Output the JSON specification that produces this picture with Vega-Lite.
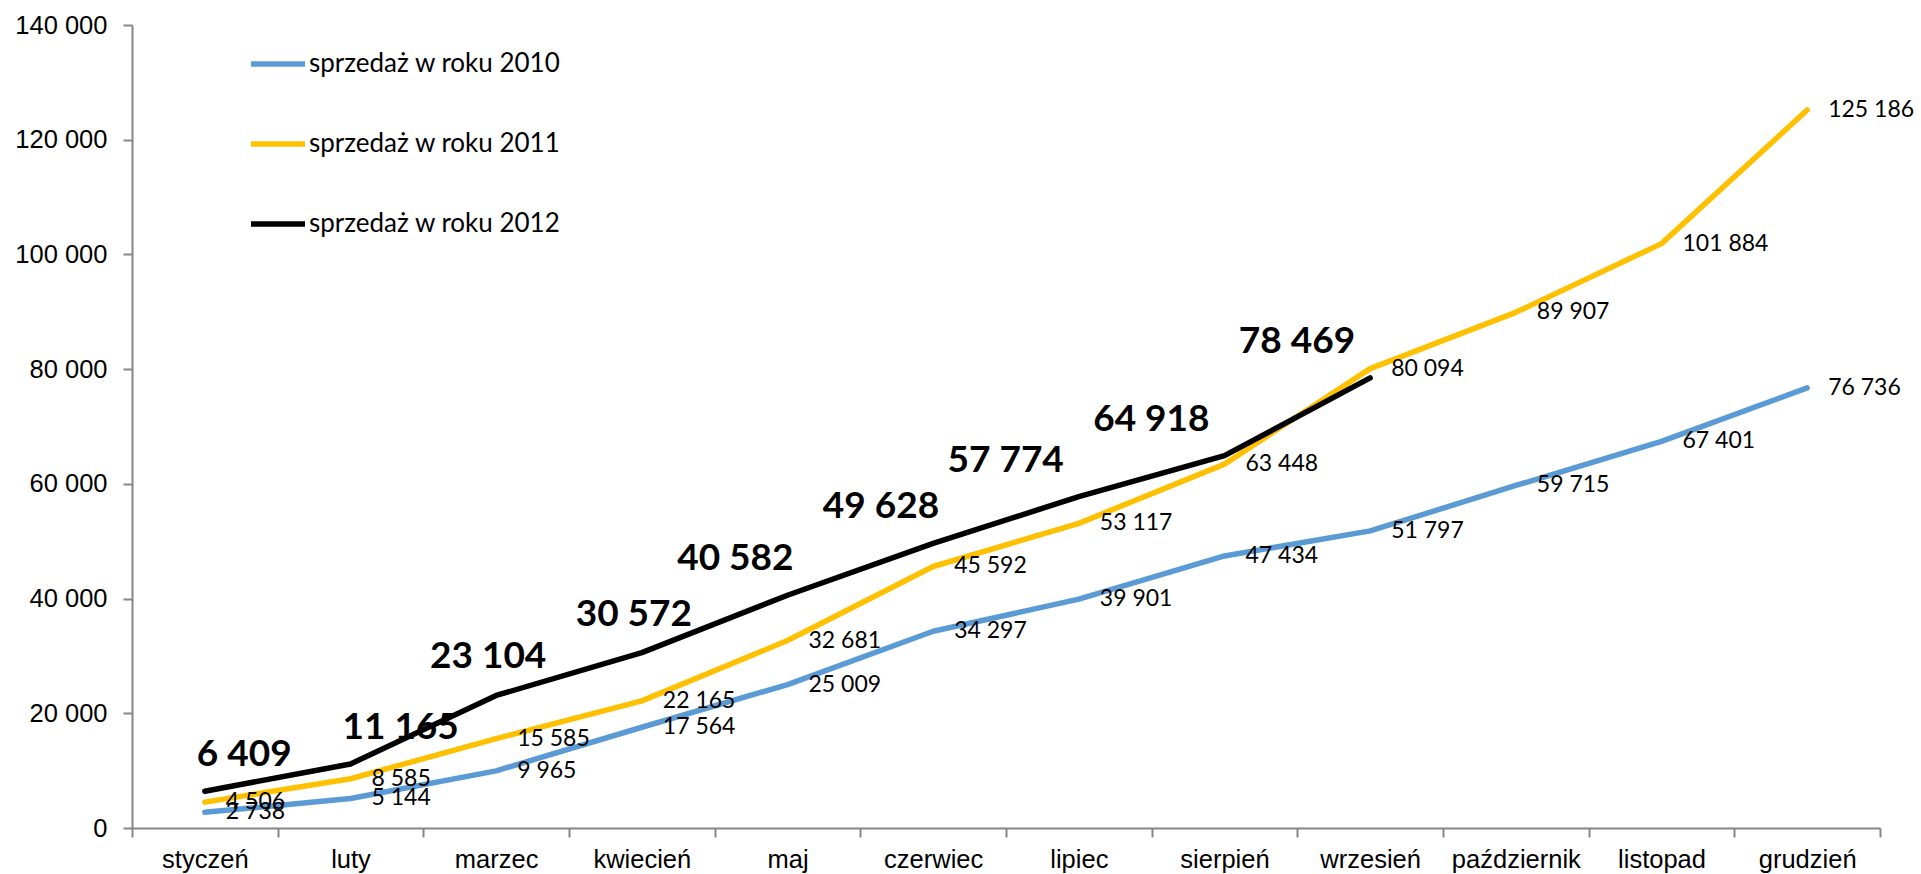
{
  "$schema": "https://vega.github.io/schema/vega-lite/v6.json",
  "width": 1748,
  "height": 803,
  "autosize": "none",
  "padding": {"left": 132, "top": 25, "right": 41, "bottom": 46},
  "config": {
    "view": {"stroke": null},
    "locale": {"number": {"decimal": ",", "thousands": " ", "grouping": [3], "currency": ["", " zł"]}},
    "axis": {
      "domainColor": "#868686", "domainWidth": 2, "tickColor": "#868686", "tickWidth": 2, "tickSize": 9,
      "labelFont": "Liberation Sans", "labelFontSize": 25.5, "labelColor": "#000000", "grid": false, "title": null
    }
  },
  "data": {"values": [
    {"month": "styczeń", "year": "sprzedaż w roku 2010", "value": 2738},
    {"month": "luty", "year": "sprzedaż w roku 2010", "value": 5144},
    {"month": "marzec", "year": "sprzedaż w roku 2010", "value": 9965},
    {"month": "kwiecień", "year": "sprzedaż w roku 2010", "value": 17564},
    {"month": "maj", "year": "sprzedaż w roku 2010", "value": 25009},
    {"month": "czerwiec", "year": "sprzedaż w roku 2010", "value": 34297},
    {"month": "lipiec", "year": "sprzedaż w roku 2010", "value": 39901},
    {"month": "sierpień", "year": "sprzedaż w roku 2010", "value": 47434},
    {"month": "wrzesień", "year": "sprzedaż w roku 2010", "value": 51797},
    {"month": "październik", "year": "sprzedaż w roku 2010", "value": 59715},
    {"month": "listopad", "year": "sprzedaż w roku 2010", "value": 67401},
    {"month": "grudzień", "year": "sprzedaż w roku 2010", "value": 76736},
    {"month": "styczeń", "year": "sprzedaż w roku 2011", "value": 4506},
    {"month": "luty", "year": "sprzedaż w roku 2011", "value": 8585},
    {"month": "marzec", "year": "sprzedaż w roku 2011", "value": 15585},
    {"month": "kwiecień", "year": "sprzedaż w roku 2011", "value": 22165},
    {"month": "maj", "year": "sprzedaż w roku 2011", "value": 32681},
    {"month": "czerwiec", "year": "sprzedaż w roku 2011", "value": 45592},
    {"month": "lipiec", "year": "sprzedaż w roku 2011", "value": 53117},
    {"month": "sierpień", "year": "sprzedaż w roku 2011", "value": 63448},
    {"month": "wrzesień", "year": "sprzedaż w roku 2011", "value": 80094},
    {"month": "październik", "year": "sprzedaż w roku 2011", "value": 89907},
    {"month": "listopad", "year": "sprzedaż w roku 2011", "value": 101884},
    {"month": "grudzień", "year": "sprzedaż w roku 2011", "value": 125186},
    {"month": "styczeń", "year": "sprzedaż w roku 2012", "value": 6409},
    {"month": "luty", "year": "sprzedaż w roku 2012", "value": 11165},
    {"month": "marzec", "year": "sprzedaż w roku 2012", "value": 23104},
    {"month": "kwiecień", "year": "sprzedaż w roku 2012", "value": 30572},
    {"month": "maj", "year": "sprzedaż w roku 2012", "value": 40582},
    {"month": "czerwiec", "year": "sprzedaż w roku 2012", "value": 49628},
    {"month": "lipiec", "year": "sprzedaż w roku 2012", "value": 57774},
    {"month": "sierpień", "year": "sprzedaż w roku 2012", "value": 64918},
    {"month": "wrzesień", "year": "sprzedaż w roku 2012", "value": 78469}
  ]},
  "encoding": {
    "x": {
      "field": "month", "type": "nominal",
      "sort": ["styczeń", "luty", "marzec", "kwiecień", "maj", "czerwiec", "lipiec", "sierpień", "wrzesień", "październik", "listopad", "grudzień"],
      "scale": {"type": "band", "paddingInner": 0, "paddingOuter": 0},
      "axis": {"labelAngle": 0, "tickBand": "extent", "labelPadding": 10, "tickSize": 9}
    },
    "y": {
      "field": "value", "type": "quantitative",
      "scale": {"domain": [0, 140000], "nice": false},
      "axis": {"values": [0, 20000, 40000, 60000, 80000, 100000, 120000, 140000], "format": ",d", "labelPadding": 16}
    }
  },
  "layer": [
    {
      "mark": {"type": "line", "strokeWidth": 5.5, "strokeCap": "round", "strokeJoin": "round"},
      "encoding": {
        "color": {
          "field": "year", "type": "nominal",
          "scale": {"domain": ["sprzedaż w roku 2010", "sprzedaż w roku 2011", "sprzedaż w roku 2012"], "range": ["#5B9BD5", "#FFC000", "#000000"]},
          "legend": {
            "title": null, "orient": "none", "legendX": 116, "legendY": 9,
            "symbolType": "stroke", "symbolSize": 2916, "symbolStrokeWidth": 5.5,
            "labelFont": "Lato", "labelFontSize": 26, "labelColor": "#000000", "labelOffset": 1,
            "rowPadding": 37, "labelLimit": 500
          }
        },
        "order": {"field": "year"}
      }
    },
    {
      "transform": [{"filter": "datum.year != 'sprzedaż w roku 2012'"}],
      "mark": {"type": "text", "align": "left", "baseline": "middle", "dx": 21, "font": "Lato", "fontSize": 23, "color": "#000000"},
      "encoding": {"text": {"field": "value", "type": "quantitative", "format": ",d"}}
    },
    {
      "transform": [{"filter": "datum.year == 'sprzedaż w roku 2012' && (datum.month == 'styczeń' || datum.month == 'luty')"}],
      "mark": {"type": "text", "align": "left", "baseline": "middle", "dx": -8, "dy": -36, "font": "Lato", "fontSize": 37, "fontWeight": "bold", "color": "#000000"},
      "encoding": {"text": {"field": "value", "type": "quantitative", "format": ",d"}}
    },
    {
      "transform": [{"filter": "datum.year == 'sprzedaż w roku 2012' && (datum.month == 'marzec' || datum.month == 'kwiecień')"}],
      "mark": {"type": "text", "align": "center", "baseline": "middle", "dx": -8, "dy": -38, "font": "Lato", "fontSize": 37, "fontWeight": "bold", "color": "#000000"},
      "encoding": {"text": {"field": "value", "type": "quantitative", "format": ",d"}}
    },
    {
      "transform": [{"filter": "datum.year == 'sprzedaż w roku 2012' && (datum.month == 'maj' || datum.month == 'czerwiec')"}],
      "mark": {"type": "text", "align": "right", "baseline": "middle", "dx": 6, "dy": -36, "font": "Lato", "fontSize": 37, "fontWeight": "bold", "color": "#000000"},
      "encoding": {"text": {"field": "value", "type": "quantitative", "format": ",d"}}
    },
    {
      "transform": [{"filter": "datum.year == 'sprzedaż w roku 2012' && (datum.month == 'lipiec' || datum.month == 'sierpień' || datum.month == 'wrzesień')"}],
      "mark": {"type": "text", "align": "right", "baseline": "middle", "dx": -15, "dy": -36, "font": "Lato", "fontSize": 37, "fontWeight": "bold", "color": "#000000"},
      "encoding": {"text": {"field": "value", "type": "quantitative", "format": ",d"}}
    }
  ]
}
